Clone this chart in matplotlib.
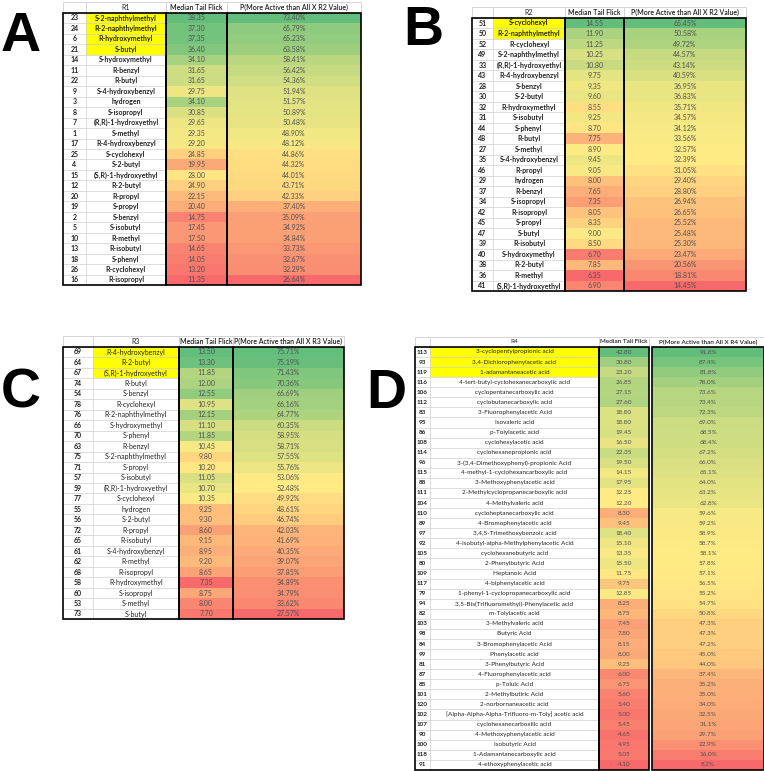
import matplotlib
matplotlib.use('Agg')
import matplotlib.pyplot as plt
import numpy as np
from matplotlib.colors import to_rgb
from matplotlib.patches import Rectangle

W, H = 764, 771
fig = plt.figure(figsize=(W / 100, H / 100), dpi=100)
FAM = ['Lato', 'DejaVu Sans']

# ---------------- data ----------------
r1_ids = [23, 24, 6, 21, 14, 11, 22, 9, 3, 8, 7, 1, 17, 25, 4, 15, 12, 20, 19, 2, 5, 10, 13, 18, 26, 16]
r1_names = ["S-2-naphthylmethyl", "R-2-naphthylmethyl", "R-hydroxymethyl", "S-butyl", "S-hydroxymethyl",
            "R-benzyl", "R-butyl", "S-4-hydroxybenzyl", "hydrogen", "S-isopropyl", "(R,R)-1-hydroxyethyl",
            "S-methyl", "R-4-hydroxybenzyl", "S-cyclohexyl", "S-2-butyl", "(S,R)-1-hydroxyethyl", "R-2-butyl",
            "R-propyl", "S-propyl", "S-benzyl", "S-isobutyl", "R-methyl", "R-isobutyl", "S-phenyl",
            "R-cyclohexyl", "R-isopropyl"]
r1_median = [38.35, 37.30, 37.35, 36.40, 34.10, 31.65, 31.65, 29.75, 34.10, 30.85, 29.65, 29.35, 29.20,
             24.85, 19.95, 28.00, 24.90, 22.15, 20.40, 14.75, 17.45, 17.50, 14.65, 14.05, 13.20, 11.35]
r1_p = [73.40, 65.79, 65.23, 63.58, 58.41, 56.42, 54.36, 51.94, 51.57, 50.89, 50.48, 48.90, 48.12,
        44.86, 44.32, 44.01, 43.71, 42.33, 37.40, 35.09, 34.92, 34.84, 33.73, 32.67, 32.29, 26.64]

r2_ids = [51, 50, 52, 49, 33, 43, 28, 30, 32, 31, 44, 48, 27, 35, 46, 29, 37, 34, 42, 45, 47, 39, 40, 38, 36, 41]
r2_names = ["S-cyclohexyl", "R-2-naphthylmethyl", "R-cyclohexyl", "S-2-naphthylmethyl", "(R,R)-1-hydroxyethyl",
            "R-4-hydroxybenzyl", "S-benzyl", "S-2-butyl", "R-hydroxymethyl", "S-isobutyl", "S-phenyl",
            "R-butyl", "S-methyl", "S-4-hydroxybenzyl", "R-propyl", "hydrogen", "R-benzyl", "S-isopropyl",
            "R-isopropyl", "S-propyl", "S-butyl", "R-isobutyl", "S-hydroxymethyl", "R-2-butyl", "R-methyl",
            "(S,R)-1-hydroxyethyl"]
r2_median = [14.55, 11.90, 11.25, 10.25, 10.80, 9.75, 9.35, 9.60, 8.55, 9.25, 8.70, 7.75, 8.90,
             9.45, 9.05, 8.00, 7.65, 7.35, 8.05, 8.35, 9.00, 8.50, 6.70, 7.85, 6.35, 6.90]
r2_p = [65.45, 50.58, 49.72, 44.57, 43.14, 40.59, 36.95, 36.83, 35.71, 34.57, 34.12, 33.56, 32.57,
        32.39, 31.05, 29.40, 28.80, 26.94, 26.65, 25.52, 25.48, 25.30, 23.47, 20.56, 18.81, 14.45]

r3_ids = [69, 64, 67, 74, 54, 78, 76, 66, 70, 63, 75, 71, 57, 59, 77, 55, 56, 72, 65, 61, 62, 68, 58, 60, 53, 73]
r3_names = ["R-4-hydroxybenzyl", "R-2-butyl", "(S,R)-1-hydroxyethyl", "R-butyl", "S-benzyl", "R-cyclohexyl",
            "R-2-naphthylmethyl", "S-hydroxymethyl", "S-phenyl", "R-benzyl", "S-2-naphthylmethyl", "S-propyl",
            "S-isobutyl", "(R,R)-1-hydroxyethyl", "S-cyclohexyl", "hydrogen", "S-2-butyl", "R-propyl",
            "R-isobutyl", "S-4-hydroxybenzyl", "R-methyl", "R-isopropyl", "R-hydroxymethyl", "S-isopropyl",
            "S-methyl", "S-butyl"]
r3_median = [13.50, 13.30, 11.85, 12.00, 12.55, 10.95, 12.15, 11.10, 11.85, 10.45, 9.80, 10.20, 11.05,
             10.70, 10.35, 9.25, 9.30, 8.60, 9.15, 8.95, 9.20, 8.65, 7.35, 8.75, 8.00, 7.70]
r3_p = [75.71, 75.19, 71.43, 70.36, 66.69, 66.16, 64.77, 60.35, 58.95, 58.71, 57.55, 55.76, 53.06,
        52.48, 49.92, 48.61, 46.74, 42.03, 41.69, 40.35, 39.07, 37.85, 34.89, 34.79, 33.62, 27.57]

r4_ids = [113, 93, 119, 116, 106, 112, 83, 95, 86, 108, 114, 96, 115, 88, 111, 104, 110, 89, 97, 92, 105,
          80, 109, 117, 79, 94, 82, 103, 98, 84, 99, 81, 87, 85, 101, 120, 102, 107, 90, 100, 118, 91]
r4_names = ["3-cyclopentylpropionic acid", "3,4-Dichlorophenylacetic acid", "1-adamantaneacetic acid",
            "4-tert-butyl-cyclohexanecarboxylic acid", "cyclopentanecarboxylic acid", "cyclobutanecarboxylic acid",
            "3-Fluorophenylacetic Acid", "Isovaleric acid", "p-Tolylacetic acid", "cyclohexylacetic acid",
            "cyclohexanepropionic acid", "3-(3,4-Dimethoxyphenyl)-propionic Acid",
            "4-methyl-1-cyclohexancarboxylic acid", "3-Methoxyphenylacetic acid",
            "2-Methylcyclopropanecarboxylic acid", "4-Methylvaleric acid", "cycloheptanecarboxylic acid",
            "4-Bromophenylacetic acid", "3,4,5-Trimethoxybenzoic acid", "4-isobutyl-alpha-Methylphenylacetic Acid",
            "cyclohexanebutyric acid", "2-Phenylbutyric Acid", "Heptanoic Acid", "4-biphenylacetic acid",
            "1-phenyl-1-cyclopropanecarboxylic acid", "3,5-Bis(Trifluoromethyl)-Phenylacetic acid",
            "m-Tolylacetic acid", "3-Methylvaleric acid", "Butyric Acid", "3-Bromophenylacetic Acid",
            "Phenylacetic acid", "3-Phenylbutyric Acid", "4-Fluorophenylacetic acid", "p-Toluic Acid",
            "2-Methylbutiric Acid", "2-norbornaneacetic acid", "[Alpha-Alpha-Alpha-Trifluoro-m-Toly] acetic acid",
            "cyclohexanecarboxilic acid", "4-Methoxyphenylacetic acid", "Isobutyric Acid",
            "1-Adamantanecarboxylic acid", "4-ethoxyphenylacetic acid"]
r4_median = [42.80, 30.80, 23.20, 26.85, 27.15, 27.60, 18.80, 18.80, 19.45, 16.50, 22.35, 19.50, 14.15,
             17.95, 12.25, 12.20, 8.30, 9.45, 18.40, 15.10, 13.35, 15.50, 11.75, 9.75, 12.85, 8.25, 8.75,
             7.45, 7.80, 8.15, 8.00, 9.25, 6.00, 6.75, 5.60, 5.40, 5.00, 5.45, 4.65, 4.95, 5.05, 4.10]
r4_p = [91.8, 87.4, 81.8, 78.0, 73.6, 73.4, 72.3, 69.0, 68.5, 68.4, 67.2, 66.0, 65.1, 64.0, 63.2, 62.8,
        59.6, 59.2, 58.9, 58.7, 58.1, 57.8, 57.1, 56.5, 55.2, 54.7, 50.8, 47.3, 47.3, 47.2, 45.0, 44.0,
        37.4, 35.2, 35.0, 34.0, 32.5, 31.1, 29.7, 22.9, 16.0, 8.2]

RED, YEL, GRN = np.array(to_rgb('#F8696B')), np.array(to_rgb('#FFEB84')), np.array(to_rgb('#63BE7B'))


def scale_colors(vals):
    v = np.asarray(vals, float)
    lo, mid, hi = v.min(), np.percentile(v, 50), v.max()
    out = []
    for x in v:
        if x <= mid:
            t = 0 if mid == lo else (x - lo) / (mid - lo)
            c = RED + t * (YEL - RED)
        else:
            t = (x - mid) / (hi - mid)
            c = YEL + t * (GRN - YEL)
        out.append(tuple(c))
    return out


def panel(x0, cols, row0, sp, ids, names, med, pv, hdr_name, hdr_p, n_hl, pfmt, fs, name_bold, gap=0.0):
    n = len(ids)
    top = row0 - 1.5 * sp
    bottom = row0 + (n - 0.5) * sp
    e = [0, cols[0], cols[0] + cols[1], cols[0] + cols[1] + cols[2]]
    p_left = e[3] + gap
    width = p_left + cols[3]
    ax = fig.add_axes([x0 / W, 1 - bottom / H, width / W, (bottom - top) / H])
    ax.set_xlim(0, width)
    ax.set_ylim(n - 0.5, -1.5)
    ax.axis('off')
    rows = np.arange(n)
    # colour-scaled cells
    ax.barh(rows, cols[2], left=e[2], height=1.0, color=scale_colors(med), linewidth=0)
    ax.barh(rows, cols[3], left=p_left, height=1.0, color=scale_colors(pv), linewidth=0)
    # highlight
    ax.barh(rows[:n_hl], cols[1], left=e[1], height=1.0, color='#FFFF00', linewidth=0)
    # light grid
    gcol = '#cfcfcf'
    ax.hlines(np.arange(-0.5, n - 0.4, 1.0), e[0], e[2], color=gcol, lw=0.5)
    ax.vlines(e[1], -0.5, n - 0.5, color=gcol, lw=0.5)
    ax.hlines(-1.5, 0, width, color=gcol, lw=0.6, clip_on=False)
    ax.vlines([0, e[1], e[2], e[3], width], -1.5, -0.5, color=gcol, lw=0.6, clip_on=False)
    # thick borders
    for (l, w_) in [(0, e[2]), (e[2], cols[2]), (p_left, cols[3])]:
        ax.add_patch(Rectangle((l, -0.5), w_, n, fill=False, ec='black', lw=1.2, clip_on=False, zorder=5))
    # headers
    hy = -1
    ax.text((e[1] + e[2]) / 2, hy, hdr_name, ha='center', va='center', fontsize=fs, family=FAM, color='#222')
    ax.text((e[2] + e[3]) / 2, hy, 'Median Tail Flick', ha='center', va='center', fontsize=fs,
            family=FAM, color='#222', weight='semibold')
    ax.text(p_left + cols[3] / 2, hy, hdr_p, ha='center', va='center', fontsize=fs, family=FAM,
            color='#222', weight='semibold')
    for i in rows:
        ax.text(e[1] / 2, i, str(ids[i]), ha='center', va='center', fontsize=fs, family=FAM,
                weight='bold', color='#222')
        ax.text((e[1] + e[2]) / 2, i, names[i], ha='center', va='center', fontsize=fs, family=FAM,
                weight='bold' if name_bold else 'normal', color='#222')
        ax.text((e[2] + e[3]) / 2, i, '%.2f' % med[i], ha='center', va='center', fontsize=fs,
                family=FAM, color='#505050')
        ax.text(p_left + cols[3] / 2, i, pfmt % pv[i], ha='center', va='center', fontsize=fs,
                family=FAM, color='#505050')
    return ax


panel(63, [23, 80, 61, 134], 18, 10.48, r1_ids, r1_names, r1_median, r1_p, 'R1',
      'P(More Active than All X R2 Value)', 4, '%.2f%%', 5.0, True)
panel(472, [21, 72, 59, 122], 23, 10.52, r2_ids, r2_names, r2_median, r2_p, 'R2',
      'P(More Active than All X R2 Value)', 2, '%.2f%%', 5.0, True)
panel(63, [30, 86, 54, 111], 352, 10.48, r3_ids, r3_names, r3_median, r3_p, 'R3',
      'P(More Active than All X R3 Value)', 3, '%.2f%%', 5.0, False)
panel(415, [15, 169, 50, 112], 352, 10.07, r4_ids, r4_names, r4_median, r4_p, 'R4',
      'P(More Active than All X R4 Value)', 3, '%.1f%%', 4.6, False, gap=3)

# panel letters
for lab, x, y in [('A', 1, 51), ('B', 403, 45), ('C', 1, 408), ('D', 366, 408)]:
    fig.text(x / W, 1 - y / H, lab, fontsize=40, weight='bold', family=['Liberation Sans', 'DejaVu Sans'],
             ha='left', va='baseline')

fig.savefig('out.png', dpi=100, facecolor='white')
